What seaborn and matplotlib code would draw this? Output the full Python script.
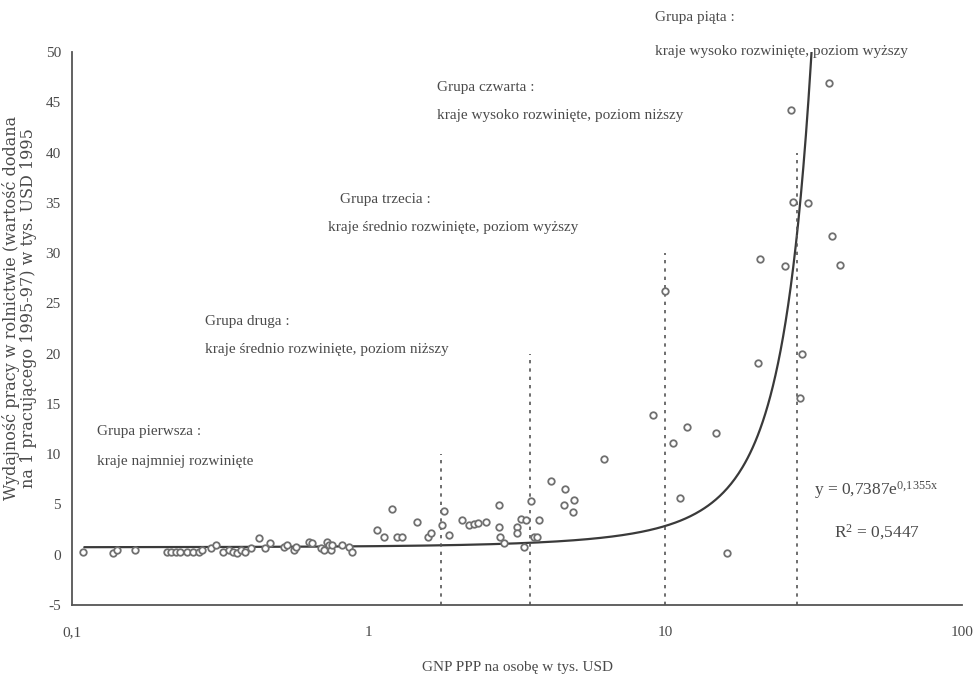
import numpy as np
import pandas as pd
import matplotlib
matplotlib.use("Agg")
import matplotlib.pyplot as plt
import seaborn as sns

# ---- data ----
gnp = [0.109, 0.138, 0.142, 0.163, 0.209, 0.215, 0.225, 0.232, 0.244, 0.256,
       0.267, 0.274, 0.293, 0.306, 0.324, 0.338, 0.350, 0.360, 0.370, 0.384,
       0.400, 0.426, 0.449, 0.466, 0.518, 0.530, 0.560, 0.567, 0.628, 0.645,
       0.689, 0.707, 0.725, 0.734, 0.745, 0.752, 0.815, 0.858, 0.880,
       1.07, 1.13, 1.20, 1.25, 1.30, 1.46, 1.58, 1.62, 1.77, 1.80,
       1.87, 2.06, 2.18, 2.26, 2.33, 2.48, 2.75, 2.75, 2.78, 2.85,
       3.16, 3.16, 3.26, 3.34, 3.39, 3.53, 3.60, 3.70, 3.76, 4.12,
       4.57, 4.60, 4.87, 4.91, 6.21, 9.08, 10.0, 10.6, 11.2, 11.8,
       14.8, 16.1, 20.6, 20.9, 25.3, 26.5, 27.0, 28.4, 28.8, 30.3,
       35.5, 36.6, 38.8]
productivity = [0.3, 0.2, 0.5, 0.5, 0.3, 0.3, 0.3, 0.3, 0.3, 0.3,
                0.3, 0.5, 0.7, 1.0, 0.3, 0.5, 0.3, 0.2, 0.5, 0.3,
                0.7, 1.65, 0.7, 1.2, 0.8, 1.0, 0.5, 0.8, 1.3, 1.2,
                0.7, 0.5, 1.3, 1.0, 0.5, 1.0, 1.0, 0.8, 0.3,
                2.5, 1.8, 4.5, 1.8, 1.8, 3.3, 1.8, 2.2, 3.0, 4.3,
                2.0, 3.5, 3.0, 3.1, 3.15, 3.3, 4.9, 2.75, 1.8, 1.2,
                2.75, 2.2, 3.6, 0.8, 3.5, 5.3, 1.8, 1.8, 3.5, 7.3,
                4.9, 6.5, 4.2, 5.4, 9.5, 13.9, 26.2, 11.1, 5.6, 12.75,
                12.1, 0.17, 19.05, 29.4, 28.7, 44.2, 35.1, 15.6, 20.0, 35.0,
                46.9, 31.7, 28.8]

# group boundaries (dashed verticals) and their heights
boundary_x = [1.75, 3.5, 10.0, 27.7]
boundary_top = [10, 20, 30, 40]

# trend line y = a * exp(b x)
trend_a = 0.7387
trend_b = 0.1355

group_titles = ["Grupa pierwsza :", "Grupa druga :", "Grupa trzecia :",
                "Grupa czwarta :", "Grupa piąta :"]
group_desc = ["kraje najmniej rozwinięte",
              "kraje średnio rozwinięte, poziom niższy",
              "kraje średnio rozwinięte, poziom wyższy",
              "kraje wysoko rozwinięte, poziom niższy",
              "kraje wysoko rozwinięte, poziom wyższy"]

x_ticks = [0.1, 1, 10, 100]
x_ticklabels = ["0,1", "1", "10", "100"]
y_ticks = list(range(-5, 51, 5))

# ---- drawing ----
sns.set_theme(style="white")
plt.rcParams['font.family'] = ['Liberation Serif', 'DejaVu Serif']
plt.rcParams['mathtext.fontset'] = 'custom'
plt.rcParams['mathtext.rm'] = 'Liberation Serif'
plt.rcParams['mathtext.it'] = 'Liberation Serif'
plt.rcParams['mathtext.default'] = 'rm'
ink = "#4a4a4a"

fig = plt.figure(figsize=(9.76, 6.82), dpi=100)
ax = fig.add_axes([72/976, 1-605/682, (962-72)/976, (605-52)/682])

xs = np.geomspace(0.11, 40, 600)
trend = pd.DataFrame({"x": xs, "y": trend_a*np.exp(trend_b*xs)})
sns.lineplot(data=trend, x="x", y="y", ax=ax, color="#3a3a3a", linewidth=1.6)

ax.vlines(boundary_x, -5, boundary_top, colors="#555555",
          linestyles=(0, (2.0, 3.0)), linewidth=1.2)

pts = pd.DataFrame({"gnp": gnp, "prod": productivity})
sns.scatterplot(data=pts, x="gnp", y="prod", ax=ax, marker="o", s=22,
                color="white", edgecolor="#707070", linewidth=1.3, zorder=3)

ax.set_xscale("log")
ax.set_xlim(0.1, 100)
ax.set_ylim(-5, 50)
ax.set_xticks(x_ticks)
ax.set_xticklabels(x_ticklabels)
ax.minorticks_off()
ax.set_yticks(y_ticks)
ax.set_yticklabels([str(v) for v in y_ticks])
ax.tick_params(axis="x", direction="inout", length=8, width=1, colors=ink,
               labelsize=11, pad=11)
ax.tick_params(axis="y", direction="inout", length=8, width=1, colors=ink,
               labelsize=11, pad=4)
ax.set_xlabel("")
ax.set_ylabel("")
for s in ["top", "right"]:
    ax.spines[s].set_visible(False)
for s in ["left", "bottom"]:
    ax.spines[s].set_color("#555555")
    ax.spines[s].set_linewidth(1.3)
ax.set_facecolor("white")
ax.grid(False)

def ftext(px, py, s, **kw):
    fig.text(px/976, 1-py/682, s, color=ink, **kw)

title_pos = [(97, 432), (205, 322), (340, 200), (437, 88), (655, 18)]
desc_pos = [(97, 461), (205, 350), (328, 228), (437, 116), (655, 51)]
for (tx, ty), t in zip(title_pos, group_titles):
    ftext(tx, ty, t, fontsize=11, va="center", ha="left")
for (dx, dy), d in zip(desc_pos, group_desc):
    ftext(dx, dy, d, fontsize=11, va="center", ha="left")

ftext(876, 490, r"y = 0,7387e$^{0{,}1355x}$", fontsize=12.5, va="center", ha="center")
ftext(877, 532, r"R$^{2}$ = 0,5447", fontsize=12.5, va="center", ha="center")

ftext(518, 667, "GNP PPP na osobę w tys. USD", fontsize=11, va="center", ha="center")
ftext(20, 308, "Wydajność pracy w rolnictwie (wartość dodana\nna 1 pracującego 1995-97) w tys. USD 1995",
      fontsize=11.5, va="center", ha="center", rotation=90, multialignment="center",
      linespacing=1.0, family=['DejaVu Serif'])

fig.savefig("out.png", dpi=100, facecolor="white")
